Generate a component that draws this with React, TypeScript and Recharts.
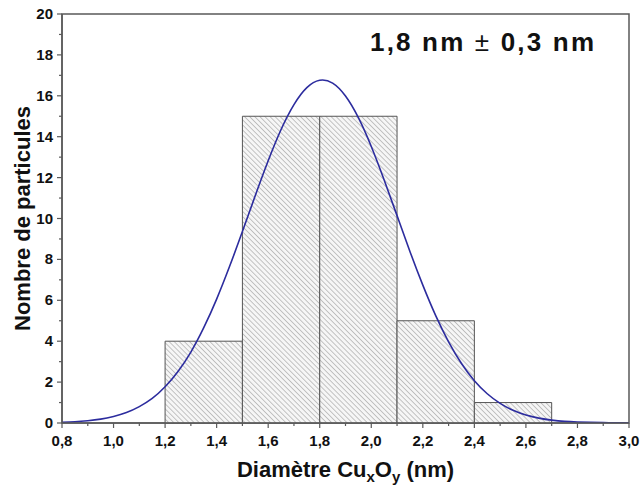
import React from 'react';
import { ComposedChart, XAxis, YAxis, Line, ReferenceArea, Label } from 'recharts';

// Histogram bins (nm) and counts
const binStarts = [1.2, 1.5, 1.8, 2.1, 2.4];
const binEnds = [1.5, 1.8, 2.1, 2.4, 2.7];
const counts = [4, 15, 15, 5, 1];

// Fitted curve
const curveX = [0.8, 0.85, 0.9, 0.95, 1.0, 1.05, 1.1, 1.15, 1.2, 1.25, 1.3, 1.35, 1.4, 1.45, 1.5, 1.55, 1.6, 1.65, 1.7, 1.75, 1.8, 1.85, 1.9, 1.95, 2.0, 2.05, 2.1, 2.15, 2.2, 2.25, 2.3, 2.35, 2.4, 2.45, 2.5, 2.55, 2.6, 2.65, 2.7, 2.75, 2.8, 2.85, 2.9, 2.95, 3.0];
const curveY = [0.04, 0.06, 0.11, 0.19, 0.32, 0.51, 0.8, 1.2, 1.77, 2.52, 3.47, 4.66, 6.06, 7.65, 9.36, 11.12, 12.82, 14.35, 15.57, 16.4, 16.76, 16.62, 15.99, 14.93, 13.52, 11.88, 10.14, 8.39, 6.74, 5.25, 3.97, 2.91, 2.07, 1.43, 0.96, 0.62, 0.39, 0.24, 0.14, 0.08, 0.05, 0.03, 0.02, 0.01, 0.0];

// Ticks (major every 0.2 / 2, minor between)
const xTicks = [0.8, 0.9, 1.0, 1.1, 1.2, 1.3, 1.4, 1.5, 1.6, 1.7, 1.8, 1.9, 2.0, 2.1, 2.2, 2.3, 2.4, 2.5, 2.6, 2.7, 2.8, 2.9, 3.0];
const yTicks = [0, 1, 2, 3, 4, 5, 6, 7, 8, 9, 10, 11, 12, 13, 14, 15, 16, 17, 18, 19, 20];

const FONT = '"Liberation Sans", Arial, sans-serif';
const AXIS = '#5a5a5a';

const curveData = curveX.map((x, i) => ({ x, y: curveY[i] }));

const XTick = (props: any) => {
  const { x, y, payload } = props;
  const v = payload.value as number;
  const major = Math.round(v * 10) % 2 === 0;
  return (
    <g>
      <line x1={x} y1={y} x2={x} y2={y + (major ? 5 : 3)} stroke={AXIS} strokeWidth={1.2} />
      {major && (
        <text x={x} y={y + 23} textAnchor="middle" fontFamily={FONT} fontWeight="bold" fontSize={15} fill="#111">
          {v.toFixed(1).replace('.', ',')}
        </text>
      )}
    </g>
  );
};

const YTick = (props: any) => {
  const { x, y, payload } = props;
  const v = payload.value as number;
  const major = Math.round(v) % 2 === 0;
  return (
    <g>
      <line x1={x} y1={y} x2={x - (major ? 5 : 3)} y2={y} stroke={AXIS} strokeWidth={1.2} />
      {major && (
        <text x={x - 9} y={y + 5} textAnchor="end" fontFamily={FONT} fontWeight="bold" fontSize={15} fill="#111">
          {String(v)}
        </text>
      )}
    </g>
  );
};

const XTitle = (props: any) => {
  const vb = props.viewBox || { x: 62, y: 423, width: 567, height: 65 };
  const cx = vb.x + vb.width / 2;
  const by = vb.y + 54;
  return (
    <text x={cx} y={by} textAnchor="middle" fontFamily={FONT} fontWeight="bold" fontSize={22} fill="#111">
      <tspan>Diamètre Cu</tspan>
      <tspan fontSize={15} dy={5}>x</tspan>
      <tspan dy={-5}>O</tspan>
      <tspan fontSize={15} dy={5}>y</tspan>
      <tspan dy={-5}> (nm)</tspan>
    </text>
  );
};

const YTitle = (props: any) => {
  const vb = props.viewBox || { x: 0, y: 14, width: 62, height: 409 };
  const cy = vb.y + vb.height / 2;
  const bx = 30;
  return (
    <text x={bx} y={cy} transform={`rotate(-90, ${bx}, ${cy})`} textAnchor="middle" fontFamily={FONT} fontWeight="bold" fontSize={22} fill="#111">
      Nombre de particules
    </text>
  );
};

export default function App() {
  return (
    <div style={{ position: 'absolute', left: 0, top: 0, width: 640, height: 488, background: '#fff' }}>
      <ComposedChart width={640} height={488} data={curveData} margin={{ top: 14, right: 11, bottom: 0, left: 0 }}>
        <defs>
          <pattern id="hatch" patternUnits="userSpaceOnUse" width={3.6} height={3.6} patternTransform="rotate(-45)">
            <rect x={0} y={0} width={3.6} height={3.6} fill="#f6f6f6" />
            <line x1={0} y1={0} x2={0} y2={3.6} stroke="#8f8f8f" strokeWidth={1} />
          </pattern>
        </defs>
        <XAxis
          dataKey="x"
          type="number"
          domain={[0.8, 3.0]}
          ticks={xTicks}
          interval={0}
          allowDataOverflow
          height={65}
          tickSize={0}
          tickMargin={0}
          tickLine={false}
          axisLine={{ stroke: AXIS, strokeWidth: 1.5 }}
          tick={<XTick />}
        >
          <Label content={<XTitle />} />
        </XAxis>
        <YAxis
          type="number"
          domain={[0, 20]}
          ticks={yTicks}
          interval={0}
          allowDataOverflow
          width={62}
          tickSize={0}
          tickMargin={0}
          tickLine={false}
          axisLine={{ stroke: AXIS, strokeWidth: 1.5 }}
          tick={<YTick />}
        >
          <Label content={<YTitle />} />
        </YAxis>
        <ReferenceArea x1={0.8} x2={3.0} y1={0} y2={20} fill="none" stroke={AXIS} strokeWidth={1.5} fillOpacity={0} />
        {binStarts.map((s, i) => (
          <ReferenceArea
            key={i}
            x1={s}
            x2={binEnds[i]}
            y1={0}
            y2={counts[i]}
            fill="url(#hatch)"
            fillOpacity={1}
            stroke="#555"
            strokeWidth={1}
          />
        ))}
        <Line
          dataKey="y"
          type="natural"
          stroke="#2c2c9e"
          strokeWidth={1.6}
          dot={false}
          activeDot={false}
          isAnimationActive={false}
        />
      </ComposedChart>
      <svg width={640} height={488} style={{ position: 'absolute', left: 0, top: 0, pointerEvents: 'none' }}>
        <text x={370} y={51} fontFamily={FONT} fontWeight="bold" fontSize={26} fill="#111" textLength={224} lengthAdjust="spacing">
          <tspan>1,8 nm </tspan>
          <tspan fontWeight="normal">±</tspan>
          <tspan> 0,3 nm</tspan>
        </text>
      </svg>
    </div>
  );
}
